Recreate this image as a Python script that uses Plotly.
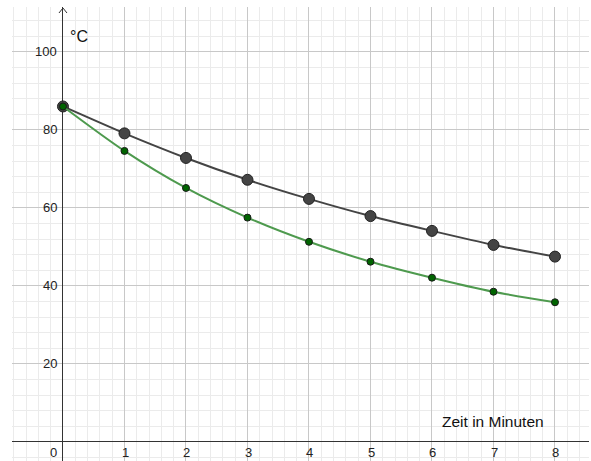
import plotly.graph_objects as go

minutes = [0, 1, 2, 3, 4, 5, 6, 7, 8]
temp_gray = [86, 79.1, 72.8, 67.2, 62.3, 57.9, 54.1, 50.5, 47.5]
temp_green = [86, 74.6, 65.1, 57.5, 51.3, 46.2, 42.1, 38.5, 35.8]

x_tick_vals = [0, 1, 2, 3, 4, 5, 6, 7, 8]
x_tick_text = ["0", "1", "2", "3", "4", "5", "6", "7", "8"]
y_tick_vals = [20, 40, 60, 80, 100]
y_tick_text = ["20", "40", "60", "80", "100"]

FONT = "Liberation Sans, Arial, sans-serif"

fig = go.Figure()
fig.add_trace(go.Scatter(
    x=minutes, y=temp_gray, mode="lines+markers",
    line=dict(color="#444444", width=2, shape="spline", smoothing=0.6),
    marker=dict(size=11, color="#444444", line=dict(color="#222222", width=1)),
    showlegend=False, hoverinfo="skip"))
fig.add_trace(go.Scatter(
    x=minutes, y=temp_green, mode="lines+markers",
    line=dict(color="#4e9a4e", width=2, shape="spline", smoothing=0.8),
    marker=dict(size=7, color="#006400", line=dict(color="#1a1a1a", width=1)),
    showlegend=False, hoverinfo="skip"))

annotations = []
for v, t in zip(x_tick_vals, x_tick_text):
    annotations.append(dict(
        x=v, y=0, xref="x", yref="y", text=t, showarrow=False,
        xanchor="center", yanchor="top", yshift=-1,
        xshift=-9 if v == 0 else 1,
        font=dict(family=FONT, size=13, color="#222222")))
for v, t in zip(y_tick_vals, y_tick_text):
    annotations.append(dict(
        x=0, y=v, xref="x", yref="y", text=t, showarrow=False,
        xanchor="right", yanchor="middle", xshift=-4,
        font=dict(family=FONT, size=13, color="#222222")))
annotations.append(dict(
    x=0, y=104, xref="x", yref="y", text="°C", showarrow=False,
    xanchor="left", yanchor="middle", xshift=5,
    font=dict(family=FONT, size=16, color="#111111")))
annotations.append(dict(
    x=8, y=5.2, xref="x", yref="y", text="Zeit in Minuten", showarrow=False,
    xanchor="right", yanchor="middle", xshift=-9,
    font=dict(family=FONT, size=15.5, color="#111111")))

shapes = [
    dict(type="path", xref="x", yref="paper", xsizemode="pixel", ysizemode="pixel",
         xanchor=0, yanchor=1, path="M -4,-6 L 0,-1 L 4,-6",
         line=dict(color="#333333", width=1)),
]

fig.update_layout(
    width=591, height=461,
    margin=dict(l=12, r=2, t=7, b=0),
    paper_bgcolor="white", plot_bgcolor="white",
    annotations=annotations, shapes=shapes,
    xaxis=dict(range=[-0.829, 8.553], dtick=1, tick0=0, showgrid=True,
               gridcolor="#c8c8c8", gridwidth=1, showticklabels=False,
               zeroline=True, zerolinecolor="#333333", zerolinewidth=1,
               minor=dict(dtick=0.2, tick0=0, showgrid=True, gridcolor="#ebebeb", gridwidth=1),
               fixedrange=True),
    yaxis=dict(range=[-4.9, 111.5], dtick=20, tick0=0, showgrid=True,
               gridcolor="#c8c8c8", gridwidth=1, showticklabels=False,
               zeroline=True, zerolinecolor="#333333", zerolinewidth=1,
               minor=dict(dtick=4, tick0=0, showgrid=True, gridcolor="#ebebeb", gridwidth=1),
               fixedrange=True),
)

fig.write_html("out.html", config={"displayModeBar": False, "staticPlot": True},
               post_script="document.body.style.margin='0px';document.body.style.padding='0px';")
